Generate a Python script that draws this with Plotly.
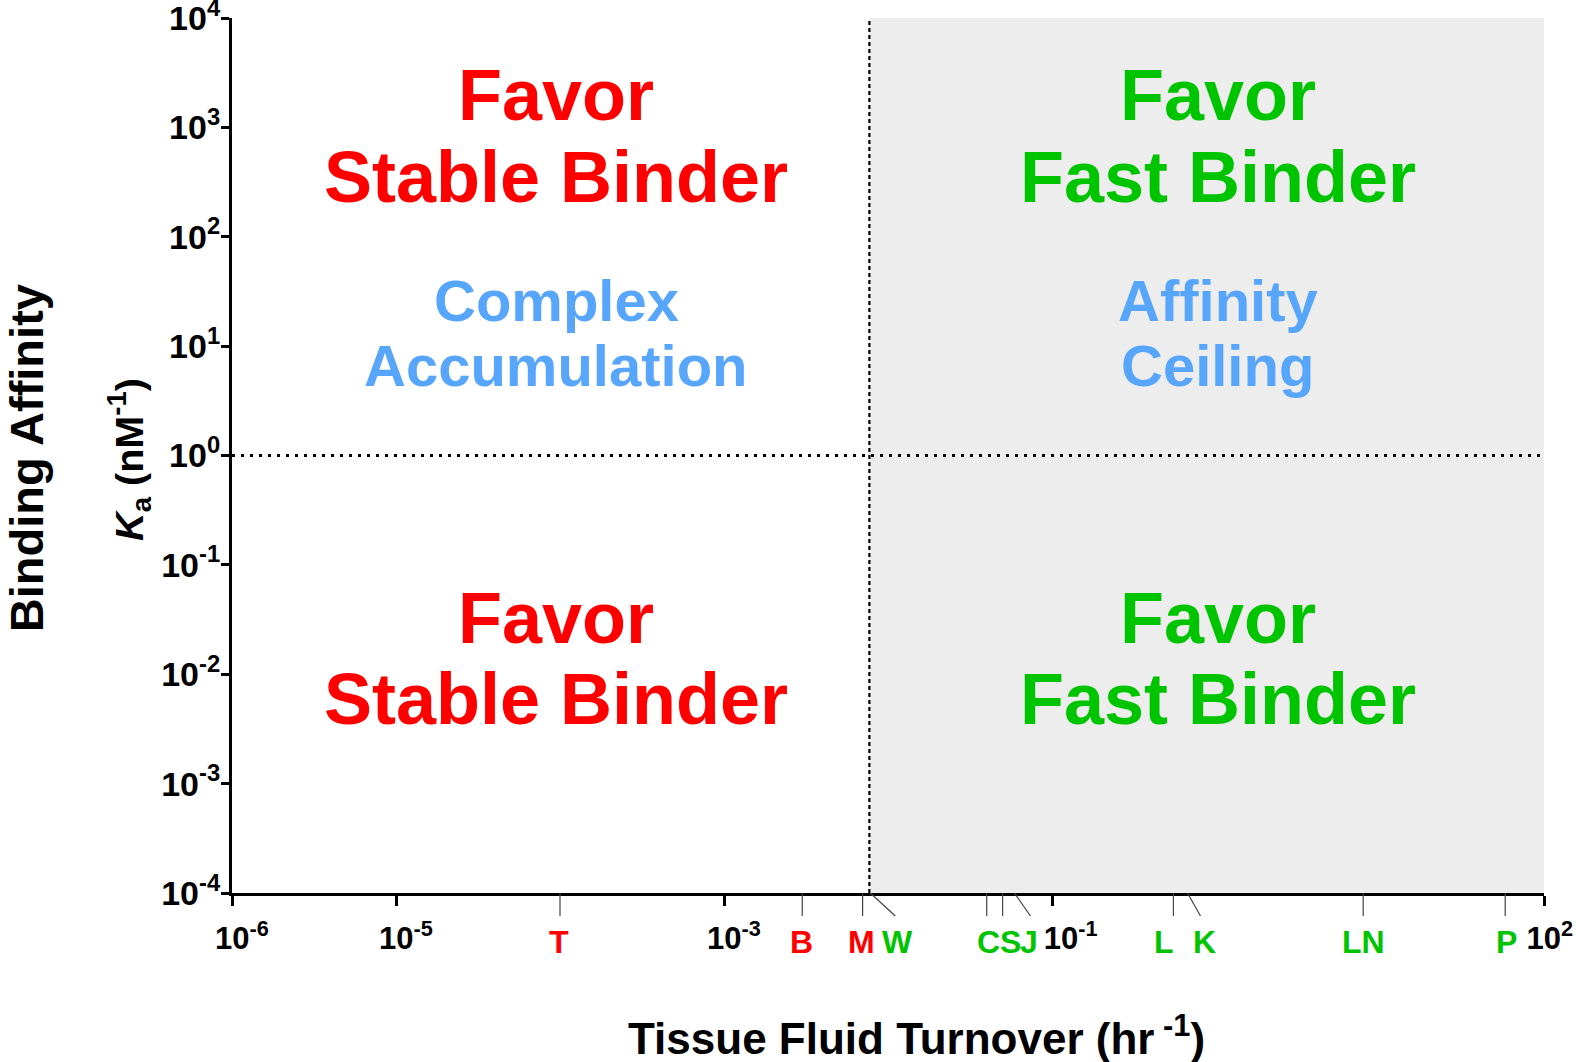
import math
import plotly.graph_objects as go

# ---------------- data ----------------
tissues = ["T", "B", "M", "W", "C", "S", "J", "L", "K", "LN", "P"]
turnover = [1.0e-4, 0.0030, 0.0070, 0.0078, 0.040, 0.050, 0.059, 0.55, 0.67, 7.9, 58.0]
favored = ["stable", "stable", "stable", "fast", "fast", "fast", "fast", "fast", "fast", "fast", "fast"]

turnover_threshold = 0.0077
affinity_threshold = 1.0

x_tick_vals = [1e-6, 1e-5, 1e-3, 1e-1, 1e2]
x_tick_text = ["10<sup>-6</sup>", "10<sup>-5</sup>", "10<sup>-3</sup>",
               "\u00a0\u00a010<sup>-1</sup>", "10<sup>2</sup>\u00a0"]
y_tick_vals = [1e-4, 1e-3, 1e-2, 1e-1, 1e0, 1e1, 1e2, 1e3, 1e4]
y_tick_text = ["10<sup>-4</sup>", "10<sup>-3</sup>", "10<sup>-2</sup>", "10<sup>-1</sup>", "10<sup>0</sup>",
               "10<sup>1</sup>", "10<sup>2</sup>", "10<sup>3</sup>", "10<sup>4</sup>"]

# ---------------- styles ----------------
FONT = "Liberation Sans, Arial, sans-serif"
RED = "#ff0000"
GREEN = "#00c400"
BLUE = "#58a6fb"
SHADE = "#ededed"
EPS = 1e-6
group_color = {"stable": RED, "fast": GREEN}
leader_dx = {"W": 25, "J": 16, "L": -12, "K": 13}          # pixel slant of leader lines
label_shift = {"T": -1, "B": -1, "M": -1, "W": 27, "C": 2, "S": 8, "J": 15,
               "L": -9, "K": 17, "LN": 0, "P": 1}           # pixel shift of labels

fig = go.Figure()
fig.add_trace(go.Scatter(x=[1e-6, 1e2], y=[1e-4, 1e4], mode="markers",
                         marker=dict(opacity=0), hoverinfo="skip", showlegend=False))

shapes = []
# shaded region (fast-binder side)
shapes.append(dict(type="rect", xref="x", yref="paper", x0=turnover_threshold, x1=1e2,
                   y0=0, y1=1, fillcolor=SHADE, line=dict(width=0), layer="below"))
# dividing lines
shapes.append(dict(type="line", xref="x", yref="paper", x0=turnover_threshold, x1=turnover_threshold,
                   y0=0, y1=1, line=dict(color="black", width=2.2, dash="4px,3px")))
shapes.append(dict(type="line", xref="paper", yref="y", x0=0, x1=1,
                   y0=affinity_threshold, y1=affinity_threshold,
                   line=dict(color="black", width=3, dash="3px,6px")))

annotations = []
for name, val, grp in zip(tissues, turnover, favored):
    dx = leader_dx.get(name, 0)
    shapes.append(dict(type="line", xref="x", yref="paper",
                       xsizemode="pixel", xanchor=val, x0=0, x1=dx,
                       ysizemode="pixel", yanchor=0, y0=0, y1=-23,
                       line=dict(color="#444444", width=1.2)))
    annotations.append(dict(x=math.log10(val), y=0, xref="x", yref="paper",
                            xshift=label_shift.get(name, 0), yshift=-49,
                            text=name, showarrow=False, xanchor="center", yanchor="middle",
                            font=dict(family=FONT, size=32, color=group_color[grp], weight="bold")))

# quadrant texts
def qtext(x, y, text, color, size):
    annotations.append(dict(x=x, y=y, xref="paper", yref="paper", text=text, showarrow=False,
                            xanchor="center", yanchor="middle",
                            font=dict(family=FONT, size=size, color=color, weight="bold")))

xl, xr = 0.247, 0.7515
for (t1, t2, yy1, yy2) in [("Favor", "Stable Binder", 0.9125, 0.8185), ("Favor", "Stable Binder", 0.3145, 0.2217)]:
    qtext(xl, yy1, t1, RED, 72)
    qtext(xl, yy2, t2, RED, 72)
for (t1, t2, yy1, yy2) in [("Favor", "Fast Binder", 0.9125, 0.8185), ("Favor", "Fast Binder", 0.3145, 0.2217)]:
    qtext(xr, yy1, t1, GREEN, 72)
    qtext(xr, yy2, t2, GREEN, 72)
qtext(xl, 0.6777, "Complex", BLUE, 58)
qtext(xl, 0.6023, "Accumulation", BLUE, 58)
qtext(xr, 0.6777, "Affinity", BLUE, 58)
qtext(xr, 0.6023, "Ceiling", BLUE, 58)

# axis titles
annotations.append(dict(x=0.522, y=-0.1623, xref="paper", yref="paper",
                        text="Tissue Fluid Turnover (hr<sup> -1</sup>)", showarrow=False,
                        xanchor="center", yanchor="middle",
                        font=dict(family=FONT, size=44, color="black", weight="bold")))
annotations.append(dict(x=-0.157, y=0.497, xref="paper", yref="paper", textangle=-90,
                        text="Binding Affinity", showarrow=False,
                        xanchor="center", yanchor="middle",
                        font=dict(family=FONT, size=47, color="black", weight="bold")))
annotations.append(dict(x=-0.0785, y=0.495, xref="paper", yref="paper", textangle=-90,
                        text="<i>K</i><sub>a</sub> (nM<sup>-1</sup>)", showarrow=False,
                        xanchor="center", yanchor="middle",
                        font=dict(family=FONT, size=39.5, color="black", weight="bold")))

fig.update_layout(
    width=1576, height=1062, autosize=False,
    margin=dict(l=232, r=32, t=18, b=169, autoexpand=False),
    paper_bgcolor="white", plot_bgcolor="white",
    shapes=shapes, annotations=annotations, showlegend=False,
    xaxis=dict(type="log", range=[-6 - EPS, 2 + EPS], showgrid=False, zeroline=False,
               showline=True, linecolor="black", linewidth=3, automargin=False,
               ticks="outside", ticklen=10, tickwidth=3, tickcolor="black",
               tickvals=x_tick_vals, ticktext=x_tick_text, ticklabelshift=10,
               ticklabelstandoff=6, ticklabeloverflow="allow",
               tickfont=dict(family=FONT, size=31, color="black", weight="bold")),
    yaxis=dict(type="log", range=[-4 - EPS, 4 + EPS], showgrid=False, zeroline=False,
               showline=True, linecolor="black", linewidth=3, automargin=False,
               ticks="outside", ticklen=8, tickwidth=3, tickcolor="black",
               tickvals=y_tick_vals, ticktext=y_tick_text,
               ticklabelstandoff=-6, ticklabeloverflow="allow",
               tickfont=dict(family=FONT, size=34, color="black", weight="bold")),
)

fig.write_html("out.html")
